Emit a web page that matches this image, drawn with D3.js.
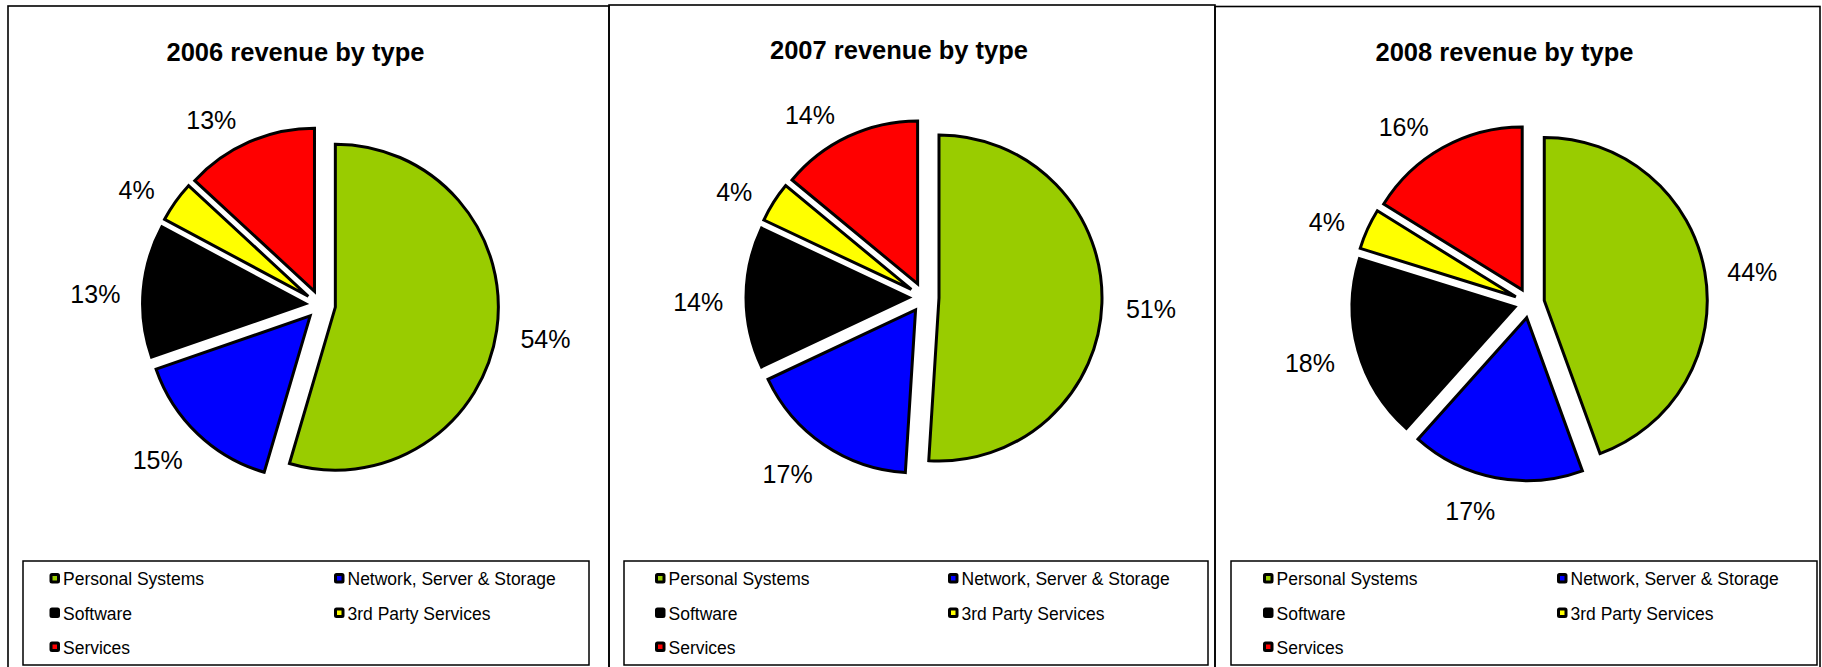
<!DOCTYPE html>
<html>
<head>
<meta charset="utf-8">
<script src="https://cdn.jsdelivr.net/npm/d3@7"></script>
<style>
  html, body { margin: 0; padding: 0; background: #ffffff; }
  svg { display: block; }
  text { font-family: "Liberation Sans", Arial, sans-serif; fill: #000; }
</style>
</head>
<body>
<svg id="chart" width="1822" height="667"></svg>
<script>
// Revenue mix by business type, one pie per year
const years = ["2006", "2007", "2008"];
const categories = ["Personal Systems", "Network, Server & Storage", "Software", "3rd Party Services", "Services"];
const categoryColors = ["#99CC00", "#0000FF", "#000000", "#FFFF00", "#FF0000"];
const share2006 = [54, 15, 13, 4, 13];
const share2007 = [51, 17, 14, 4, 14];
const share2008 = [44, 17, 18, 4, 16];
const sharesByYear = [share2006, share2007, share2008];

// Frame geometry for the three chart panels
const panels = [
  { x: 8,    y: 6,   w: 601, cy: 305,   titleY: 61, legX0: 23,   legX1: 589,  col1: 49.5, col2: 334 },
  { x: 609,  y: 5,   w: 606, cy: 297.5, titleY: 59, legX0: 624,  legX1: 1208, col1: 655,  col2: 948 },
  { x: 1215, y: 6.5, w: 605, cy: 303,   titleY: 61, legX0: 1231, legX1: 1817, col1: 1263, col2: 1557 }
];

const R = 163;          // slice radius
const explode = 15;     // every slice pulled out along its bisector
const labelRadius = 207;
const labelFont = 25;

const svg = d3.select("#chart");
const color = d3.scaleOrdinal().domain(categories).range(categoryColors);
const pie = d3.pie().sort(null).value(d => d.value);
const arc = d3.arc().innerRadius(0).outerRadius(R);

years.forEach((year, i) => {
  const p = panels[i];
  const g = svg.append("g");

  // panel frame (runs past the bottom edge)
  g.append("rect")
    .attr("x", p.x).attr("y", p.y)
    .attr("width", p.w).attr("height", 700)
    .attr("fill", "none").attr("stroke", "#000").attr("stroke-width", 1.6);

  const cx = p.x + p.w / 2 + 12;

  // title
  g.append("text")
    .attr("x", p.x + p.w / 2 - 13)
    .attr("y", p.titleY)
    .attr("text-anchor", "middle")
    .style("font-size", "25.5px")
    .style("font-weight", "bold")
    .text(year + " revenue by type");

  const data = categories.map((c, k) => ({ name: c, value: sharesByYear[i][k] }));
  const arcs = pie(data);

  const pieG = g.append("g").attr("transform", `translate(${cx},${p.cy})`);

  pieG.selectAll("path.slice")
    .data(arcs)
    .join("path")
    .attr("class", "slice")
    .attr("transform", d => {
      const mid = (d.startAngle + d.endAngle) / 2;
      return `translate(${Math.sin(mid) * explode},${-Math.cos(mid) * explode})`;
    })
    .attr("d", arc)
    .attr("fill", d => color(d.data.name))
    .attr("stroke", "#000")
    .attr("stroke-width", 3)
    .attr("stroke-linejoin", "miter");

  // percentage labels outside each slice, pushed sideways by their own width
  pieG.selectAll("text.pct")
    .data(arcs)
    .join("text")
    .attr("class", "pct")
    .attr("text-anchor", "middle")
    .style("font-size", labelFont + "px")
    .text(d => d.data.value + "%")
    .each(function (d) {
      const w = this.getComputedTextLength();
      const h = labelFont * 0.716;
      const mid = (d.startAngle + d.endAngle) / 2;
      const sx = Math.sin(mid), sy = -Math.cos(mid);
      const k = sy < 0 ? (1.25 - 0.5 * Math.abs(sx)) : 0.8;
      const x = sx * labelRadius + Math.sign(sx) * (w / 2) * k;
      const y = sy * labelRadius + 5;
      d3.select(this)
        .attr("x", x)
        .attr("y", y + h / 2);
    });

  // legend
  const legTop = 561, legBottom = 665;
  g.append("rect")
    .attr("x", p.legX0).attr("y", legTop)
    .attr("width", p.legX1 - p.legX0).attr("height", legBottom - legTop)
    .attr("fill", "#fff").attr("stroke", "#000").attr("stroke-width", 1.5);

  const rowY = [579, 613.5, 647.5];
  const legItems = g.selectAll("g.leg")
    .data(categories)
    .join("g")
    .attr("class", "leg")
    .attr("transform", (c, k) => {
      const col = k % 2, row = Math.floor(k / 2);
      return `translate(${col === 0 ? p.col1 : p.col2},${rowY[row]})`;
    });

  legItems.append("rect")
    .attr("x", 1.5).attr("y", -4.5)
    .attr("width", 7.5).attr("height", 7.5)
    .attr("rx", 1)
    .attr("fill", c => color(c))
    .attr("stroke", "#000")
    .attr("stroke-width", 3);

  legItems.append("text")
    .attr("x", 13.5)
    .attr("y", 6.3)
    .style("font-size", "17.5px")
    .text(c => c);
});
</script>
</body>
</html>
